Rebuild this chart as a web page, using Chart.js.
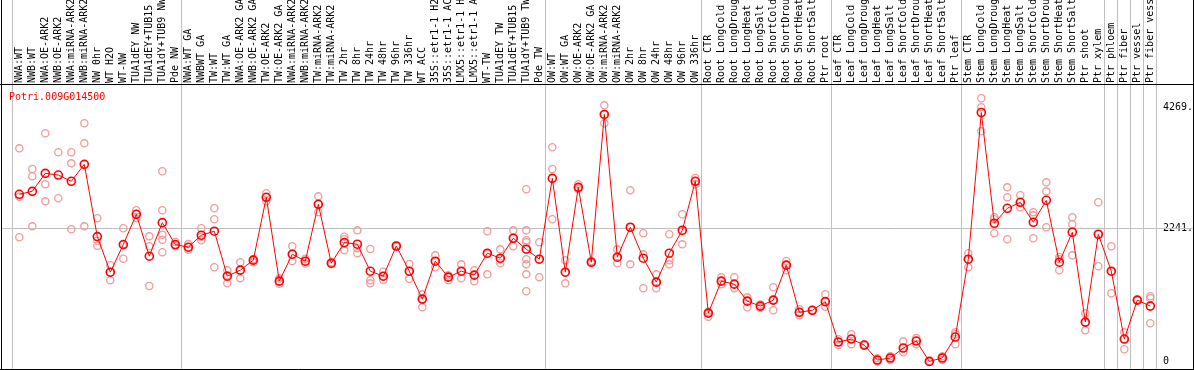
<!DOCTYPE html>
<html>
<head>
<meta charset="utf-8">
<script src="https://cdn.jsdelivr.net/npm/chart.js@4.4.0/dist/chart.umd.min.js"></script>
<style>
  html, body { margin: 0; padding: 0; background: #fff; }
  #wrap { width: 1194px; height: 370px; }
</style>
</head>
<body>
<div id="wrap"><canvas id="chart" width="1194" height="370"></canvas></div>
<script>
// ─── Data ─────────────────────────────────────────────
const geneName = "Potri.009G014500";

const categories = [
  "NWA:WT", "NWB:WT", "NWA:OE-ARK2", "NWB:OE-ARK2", "NWA:miRNA-ARK2", "NWB:miRNA-ARK2", "NW 0hr",
  "WT H2O", "WT-NW", "TUA1dEY NW", "TUA1dEY+TUB15", "TUA1dY+TUB9 NW", "Pde NW",
  "NWA:WT GA", "NWBWT GA", "TW:WT", "TW:WT GA", "NWA:OE-ARK2 GA", "NWB:OE-ARK2 GA", "TW:OE-ARK2",
  "TW:OE-ARK2 GA", "NWA:miRNA-ARK2", "NWB:miRNA-ARK2", "TW:miRNA-ARK2", "TW:miRNA-ARK2", "TW 2hr",
  "TW 8hr", "TW 24hr", "TW 48hr", "TW 96hr", "TW 336hr", "WT ACC", "35S::etr1-1 H2", "35S::etr1-1 AC",
  "LMX5::etr1-1 H", "LMX5::etr1-1 A", "WT-TW", "TUA1dEY TW", "TUA1dEY+TUB15", "TUA1dY+TUB9 TW", "Pde TW",
  "OW:WT", "OW:WT GA", "OW:OE-ARK2", "OW:OE-ARK2 GA", "OW:miRNA-ARK2", "OW:miRNA-ARK2", "OW 2hr",
  "OW 8hr", "OW 24hr", "OW 48hr", "OW 96hr", "OW 336hr",
  "Root CTR", "Root LongCold", "Root LongDroug", "Root LongHeat", "Root LongSalt", "Root ShortCold",
  "Root ShortDrou", "Root ShortHeat", "Root ShortSalt", "Ptr root",
  "Leaf CTR", "Leaf LongCold", "Leaf LongDroug", "Leaf LongHeat", "Leaf LongSalt", "Leaf ShortCold",
  "Leaf ShortDrou", "Leaf ShortHeat", "Leaf ShortSalt", "Ptr leaf",
  "Stem CTR", "Stem LongCold", "Stem LongDroug", "Stem LongHeat", "Stem LongSalt", "Stem ShortCold",
  "Stem ShortDrou", "Stem ShortHeat", "Stem ShortSalt", "Ptr shoot", "Ptr xylem",
  "Ptr phloem", "Ptr fiber", "Ptr vessel", "Ptr fiber vess"
];

// mean expression per sample
const means = [
  2811, 2861, 3163, 3134, 3029, 3314, 2101, 1503, 1967, 2475, 1772, 2335, 1967,
  1923, 2124, 2191, 1436, 1537, 1705, 2761, 1353, 1805, 1688, 2643, 1654, 2000, 1973, 1520, 1436,
  1943, 1520, 1051, 1688, 1420, 1520, 1453, 1822, 1738, 2073, 1889, 1721,
  3079, 1503, 2928, 1671, 4152, 1755, 2258, 1738, 1336, 1822, 2208, 3029,
  816, 1353, 1302, 1017, 934, 1034, 1621, 830, 863, 1008,
  330, 380, 280, 28, 62, 230, 347, 5, 62, 414,
  1721, 4185, 2325, 2576, 2677, 2342, 2710, 1671, 2174, 665, 2140,
  1520, 380, 1034, 934
];

// individual replicates per sample
const replicates = [
  [3583, 2771, 2089], [3236, 3113, 2273], [3835, 2979, 2693], [3516, 2744], [3516, 3331, 2223],
  [4003, 3667, 2273], [2408, 2032, 1948], [1619, 1501, 1367], [2240, 1967, 1730], [2542, 2475, 2408],
  [2105, 1938, 1271], [3197, 2542, 2133, 2049, 1837], [2010, 1938, 1960],
  [1975, 1880, 1923], [2240, 2100, 2039], [2576, 2391, 1585], [1535, 1450, 1316], [1669, 1537, 1400],
  [1720, 1705, 1669], [2828, 2761, 2693], [1400, 1353, 1310], [1938, 1805, 1690], [1730, 1688, 1650],
  [2777, 2643, 2509], [1669, 1654, 1640], [2100, 2055, 1870], [2206, 1904, 1820], [1893, 1367, 1316],
  [1511, 1439, 1372], [1950, 1940, 1930], [1641, 1520, 1394], [1131, 1051, 913], [1786, 1688, 1585],
  [1450, 1420, 1367], [1635, 1520, 1400], [1535, 1453, 1350], [2190, 1810, 1467], [1887, 1720, 1654],
  [2206, 2073, 1938], [2895, 2206, 2039, 2005, 1887, 1720, 1635, 1467, 1182], [2005, 1721, 1417],
  [3600, 3236, 2391], [1703, 1503, 1316], [2979, 2928, 2895], [1690, 1671, 1654], [4305, 4152, 4003],
  [1887, 1755, 1654], [2878, 2258, 1635], [2156, 1803, 1233], [1467, 1336, 1233], [2139, 1703, 1635],
  [2475, 2190, 1971], [3085, 3029, 2979],
  [840, 816, 756], [1417, 1353, 1300], [1417, 1302, 1233], [1081, 1017, 913], [960, 934, 900],
  [1249, 1034, 863], [1690, 1621, 1535], [880, 830, 780], [870, 863, 856], [1132, 1008, 924],
  [376, 330, 280], [460, 380, 292], [290, 280, 270], [57, 25, 2], [90, 62, 28], [342, 230, 158],
  [400, 347, 292], [10, 5, 0], [90, 62, 28], [494, 460, 292],
  [1820, 1721, 1585], [4423, 4272, 3869], [2425, 2394, 2156], [2928, 2761, 2055], [2794, 2677, 2593],
  [2509, 2458, 2072], [3012, 2861, 2257], [1760, 1720, 1535], [2425, 2307, 1786], [813, 655, 527],
  [2677, 2140, 1602],
  [1938, 1520, 1149], [494, 380, 208], [1040, 1034, 1028], [1098, 1065, 645]
];

// last sample index of each tissue group (separator sits just after it)
const groupEnds = [-1, 12, 40, 52, 62, 72, 83, 84, 85, 86, 87];

const yTicks = [0, 2241, 4269];
const yTickLabels = ["0", "2241.", "4269."];

// ─── Helpers ─────────────────────────────────────────
const MONO = "10px 'DejaVu Sans Mono', monospace";

const meanPoints = means.map((v, i) => ({ x: i, y: v }));
const repPoints = [];
replicates.forEach((reps, i) => reps.forEach(v => repPoints.push({ x: i, y: v })));

// gray separators, mid gridline, frame and gene name
const framePlugin = {
  id: "frame",
  beforeDatasetsDraw(chart) {
    const { ctx, scales: { x, y }, chartArea } = chart;
    ctx.save();
    ctx.strokeStyle = "#c0c0c0";
    ctx.lineWidth = 1;
    groupEnds.forEach(g => {
      const px = Math.round(x.getPixelForValue(g + 0.4)) + 0.5;
      ctx.beginPath();
      ctx.moveTo(px, 0);
      ctx.lineTo(px, chart.height);
      ctx.stroke();
    });
    const gy = Math.round(y.getPixelForValue(2241)) + 0.5;
    ctx.beginPath();
    ctx.moveTo(chartArea.left, gy);
    ctx.lineTo(chart.width, gy);
    ctx.stroke();
    ctx.restore();
  },
  afterDraw(chart) {
    const { ctx, chartArea } = chart;
    ctx.save();
    ctx.strokeStyle = "#000";
    ctx.lineWidth = 1;
    ctx.beginPath();
    ctx.moveTo(0, chartArea.top - 0.5);
    ctx.lineTo(chart.width, chartArea.top - 0.5);
    ctx.moveTo(1.5, 0);
    ctx.lineTo(1.5, chart.height);
    ctx.moveTo(chart.width - 0.5, 0);
    ctx.lineTo(chart.width - 0.5, chart.height);
    ctx.moveTo(0, chart.height - 0.5);
    ctx.lineTo(chart.width, chart.height - 0.5);
    ctx.stroke();
    ctx.fillStyle = "#ff0000";
    ctx.font = MONO;
    ctx.textBaseline = "middle";
    ctx.fillText(geneName, 9, chartArea.top + 12);
    ctx.restore();
  }
};

// ─── Chart ────────────────────────────────────────────
new Chart(document.getElementById("chart").getContext("2d"), {
  type: "line",
  data: {
    datasets: [
      {
        type: "line",
        data: meanPoints,
        borderColor: "#ff0000",
        borderWidth: 1,
        tension: 0,
        pointRadius: 4,
        pointBorderWidth: 1.6,
        pointBorderColor: "#ff0000",
        pointBackgroundColor: "rgba(0,0,0,0)",
        order: 0,
      },
      {
        type: "scatter",
        data: repPoints,
        showLine: false,
        pointRadius: 3.6,
        pointBorderWidth: 1.3,
        pointBorderColor: "#f09a9a",
        pointBackgroundColor: "rgba(0,0,0,0)",
        order: 1,
      },
    ],
  },
  options: {
    responsive: false,
    animation: false,
    layout: { autoPadding: false, padding: { left: 1, bottom: 1, top: 0, right: 0 } },
    plugins: { legend: { display: false }, tooltip: { enabled: false } },
    scales: {
      x: {
        type: "linear",
        position: "top",
        min: -1.408,
        max: 87.438,
        grid: { display: false, drawTicks: false },
        border: { display: false },
        afterBuildTicks: s => { s.ticks = categories.map((c, i) => ({ value: i })); },
        afterFit: s => {
          s.height = 85;
          s.paddingLeft = 0;
          s.paddingRight = 0;
        },
        ticks: {
          autoSkip: false,
          minRotation: 90,
          maxRotation: 90,
          padding: 2,
          labelOffset: 12,
          color: "#000",
          font: { family: "'DejaVu Sans Mono', monospace", size: 10 },
          callback: v => categories[v] ?? "",
        },
      },
      y: {
        type: "linear",
        position: "right",
        min: -122.6,
        max: 4646.5,
        grid: { display: false, drawTicks: false },
        border: { display: false },
        afterBuildTicks: s => { s.ticks = yTicks.map(v => ({ value: v })); },
        afterFit: s => {
          s.width = 38;
          s.paddingTop = 0;
          s.paddingBottom = 0;
        },
        ticks: {
          padding: 7,
          color: "#000",
          font: { family: "'DejaVu Sans Mono', monospace", size: 10 },
          callback: v => yTickLabels[yTicks.indexOf(v)] ?? "",
        },
      },
    },
  },
  plugins: [framePlugin],
});
</script>
</body>
</html>
